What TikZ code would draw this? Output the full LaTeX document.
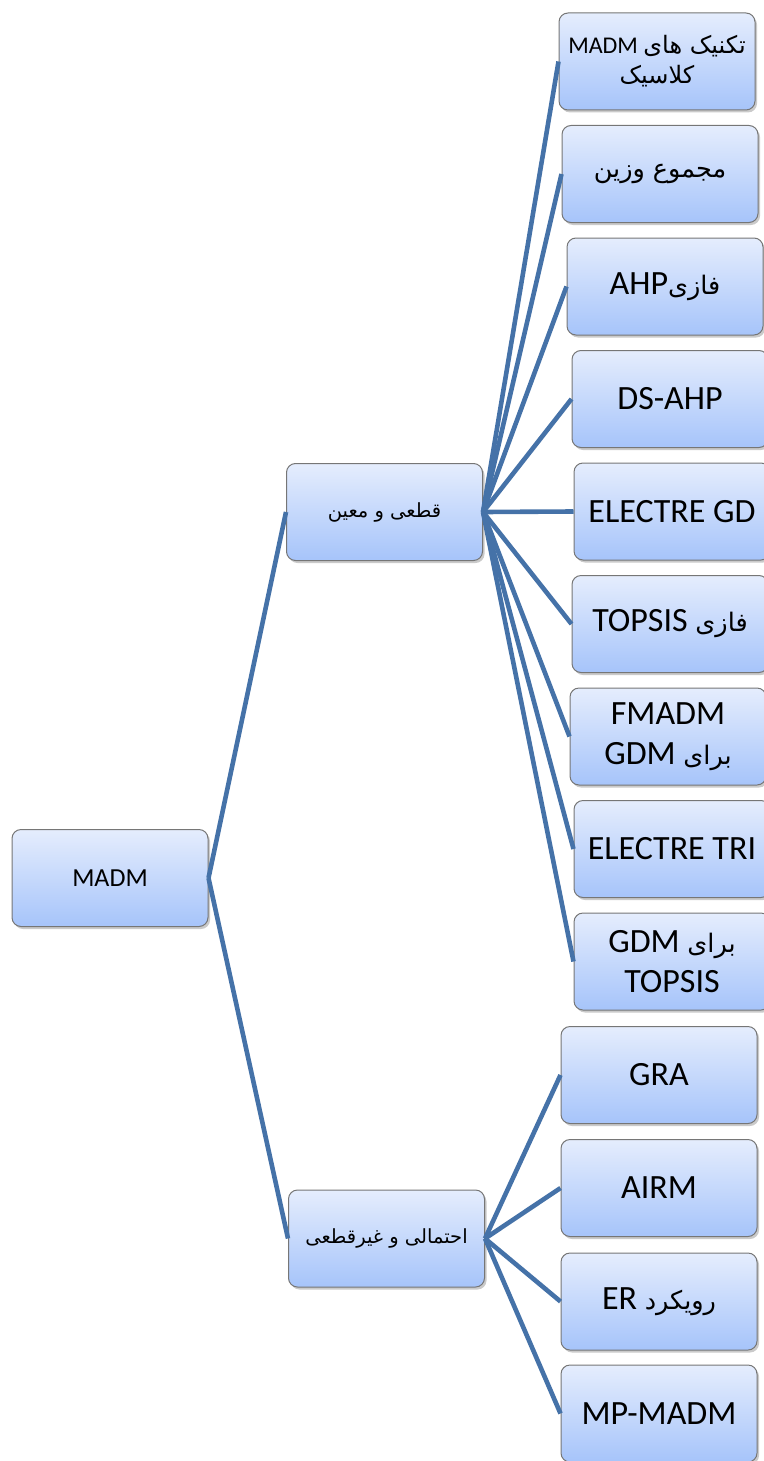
\documentclass[tikz,border=0pt]{standalone}
\usepackage{fontspec}
\setmainfont{Carlito}
\newfontfamily\fa[Script=Arabic]{DejaVu Sans}
\TeXXeTstate=1
\usetikzlibrary{shadows}
\definecolor{boxtop}{RGB}{229,237,253}
\definecolor{boxbot}{RGB}{166,196,250}
\definecolor{edge}{RGB}{69,114,168}
\definecolor{rim}{RGB}{118,118,118}

\begin{document}
\begin{tikzpicture}[x=1pt,y=-1pt,
  box/.style={draw=rim, line width=1pt, rounded corners=9pt,
    top color=boxtop, bottom color=boxbot,
    minimum width=196pt, minimum height=97pt, inner sep=0pt, align=center,
    drop shadow={shadow xshift=2pt, shadow yshift=-2.5pt, opacity=0.35, fill=black!60}},
  big/.style={font=\fontsize{34}{40}\selectfont},
  small/.style={font=\fontsize{24}{30}\selectfont},
  link/.style={draw=edge, line width=4.6pt}]
\def\fab{\fa\fontsize{25.5}{32}\selectfont}
\def\fas{\fa\fontsize{19.5}{26}\selectfont}
\useasboundingbox (0,0) rectangle (763,1461);
% root and the two groups
\node [box,small, name=root] at (110,878) {\fontsize{26}{30}\selectfont MADM};
\node [box,small, name=d] at (384.5,512) {\beginR{\fas قطعی و معین}\endR};
\node [box,small, name=p] at (386.5,1238.5) {\beginR{\fas احتمالی و غیرقطعی}\endR};
% first group
\node [box,small, name=c1] at (657,61.5) {\beginR{\fa تکنیک های} \beginL MADM\endL\endR\\ \beginR{\fa کلاسیک}\endR};
\node [box,big, name=c2] at (660,174) {\beginR{\fab مجموع وزین}\endR};
\node [box,big, name=c3] at (665,286.5) {\beginR{\fab فازی}\beginL AHP\endL\endR};
\node [box,big, name=c4] at (670,399) {DS-AHP};
\node [box,big, name=c5] at (672,511.5) {ELECTRE GD};
\node [box,big, name=c6] at (670,624) {\beginR{\fab فازی} \beginL TOPSIS\endL\endR};
\node [box,big, name=c7] at (668,736.5) {FMADM\\ \beginR{\fab برای} \beginL GDM\endL\endR};
\node [box,big, name=c8] at (672,849) {ELECTRE TRI};
\node [box,big, name=c9] at (672,961.5) {\beginR{\fab برای} \beginL GDM\endL\endR\\ TOPSIS};
% second group
\node [box,big, name=b1] at (659,1075) {GRA};
\node [box,big, name=b2] at (659,1188) {AIRM};
\node [box,big, name=b3] at (659,1301.5) {\beginR{\fab رویکرد} \beginL ER\endL\endR};
\node [box,big, name=b4] at (659,1413.5) {MP-MADM};
\draw [link](root.east) -- (d.west);
\draw [link](root.east) -- (p.west);
\draw [link](d.east) -- (c1.west);
\draw [link](d.east) -- (c2.west);
\draw [link](d.east) -- (c3.west);
\draw [link](d.east) -- (c4.west);
\draw [link](d.east) -- (c5.west);
\draw [link](d.east) -- (c6.west);
\draw [link](d.east) -- (c7.west);
\draw [link](d.east) -- (c8.west);
\draw [link](d.east) -- (c9.west);
\draw [link](p.east) -- (b1.west);
\draw [link](p.east) -- (b2.west);
\draw [link](p.east) -- (b3.west);
\draw [link](p.east) -- (b4.west);
\end{tikzpicture}
\end{document}
